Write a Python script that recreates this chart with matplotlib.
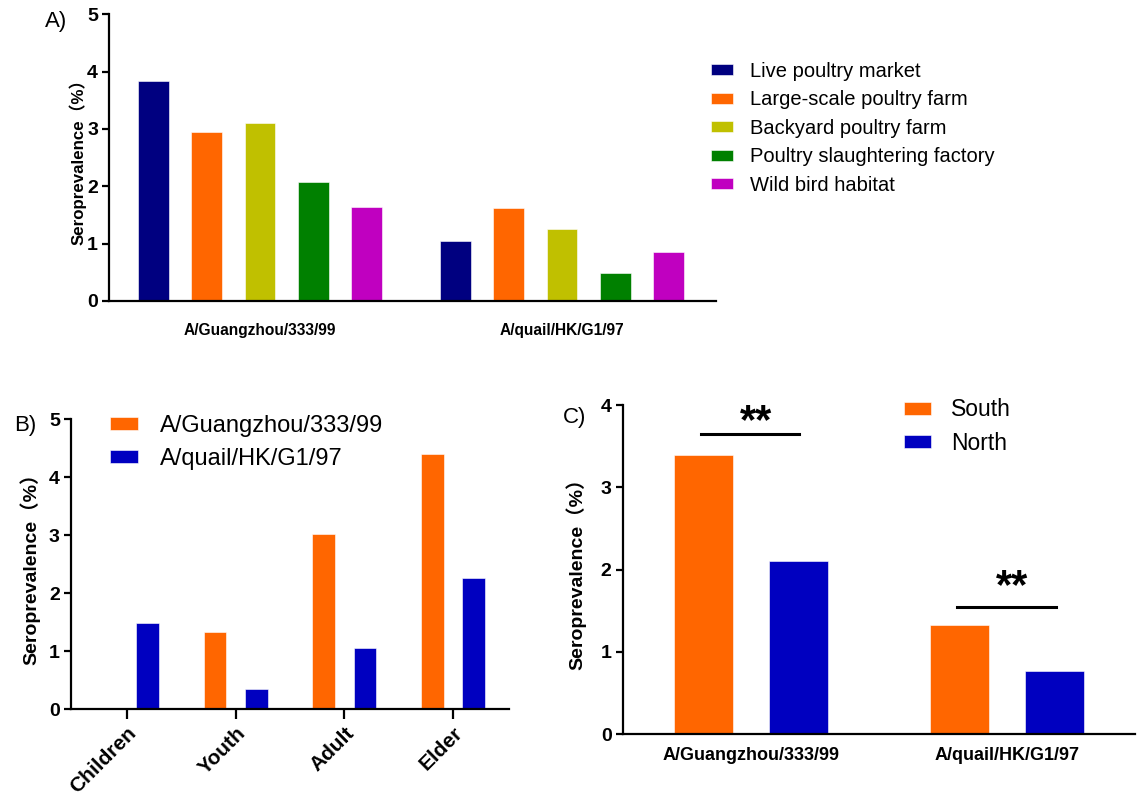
import numpy as np
import matplotlib
matplotlib.use("Agg")
from matplotlib import pyplot as plt

plt.rcParams['font.family'] = ['Liberation Sans', 'Noto Sans CJK SC', 'DejaVu Sans']

# panel A: sampling site x strain
strains = ['A/Guangzhou/333/99', 'A/quail/HK/G1/97']
sites = ['Live poultry market', 'Large-scale poultry farm', 'Backyard poultry farm',
         'Poultry slaughtering factory', 'Wild bird habitat']
site_vals = [
    [3.84, 1.05],
    [2.94, 1.62],
    [3.11, 1.26],
    [2.08, 0.48],
    [1.63, 0.85],
]
site_colors = ['#000080', '#FF6600', '#C0C000', '#008000', '#C000C0']

# panel B: age groups
ages = ['Children', 'Youth', 'Adult', 'Elder']
gz_age = [0.0, 1.33, 3.02, 4.41]
hk_age = [1.49, 0.35, 1.06, 2.26]

# panel C: region
regions = ['South', 'North']
south = [3.39, 1.33]
north = [2.10, 0.77]
sig_y = [3.65, 1.55]     # significance bars
star_y = [3.66, 1.65]    # baseline of the ** marks

ORANGE = '#FF6600'
BLUE = '#0000C0'
YLAB = 'Seroprevalence（%）'


def style_axes(ax, ylab, fs_tick, fs_lab, pad):
    for s in ['top', 'right']:
        ax.spines[s].set_visible(False)
    for s in ['left', 'bottom']:
        ax.spines[s].set_linewidth(1.6)
    ax.tick_params(axis='y', width=1.6, length=5, labelsize=fs_tick, pad=3)
    for t in ax.get_yticklabels():
        t.set_fontweight('bold')
    ax.set_ylabel(ylab, fontsize=fs_lab, fontweight='bold', labelpad=pad)


fig = plt.figure(figsize=(11.39, 7.99), dpi=100)

# ---- A ----
axA = fig.add_axes([0.0957, 0.6233, 0.5330, 0.3590])
x = np.arange(len(strains))
offs = (np.arange(len(sites)) - 2) * 0.176
for i in range(len(sites)):
    axA.bar(x + offs[i], site_vals[i], width=0.102, color=site_colors[i],
            label=sites[i], edgecolor='white', linewidth=0.4)
axA.set_xlim(-0.5, 1.51)
axA.set_ylim(0, 5)
axA.set_yticks(range(6))
axA.set_xticks(x)
axA.set_xticklabels(strains, fontsize=11.2, fontweight='bold')
axA.tick_params(axis='x', length=0, pad=16)
style_axes(axA, YLAB, 14, 12.2, 0)
h, l = axA.get_legend_handles_labels()
fig.legend(h, l, loc='upper left', bbox_to_anchor=(711 / 1139, 1 - 62 / 799),
           frameon=False, fontsize=14.5, handlelength=1.1, handleheight=0.45,
           handletextpad=0.85, labelspacing=0.47, borderpad=0, borderaxespad=0)
fig.text(56 / 1139, 1 - 22 / 799, 'A)', fontsize=16, va='center', ha='center')

# ---- B ----
axB = fig.add_axes([0.0623, 0.1126, 0.3846, 0.3626])
xb = np.arange(len(ages))
axB.bar(xb - 0.19, gz_age, width=0.21, color=ORANGE, label=strains[0],
        edgecolor='white', linewidth=0.4)
axB.bar(xb + 0.19, hk_age, width=0.21, color=BLUE, label=strains[1],
        edgecolor='white', linewidth=0.4)
axB.set_xlim(-0.515, 3.515)
axB.set_ylim(0, 5)
axB.set_yticks(range(6))
axB.set_xticks(xb)
axB.set_xticklabels(ages, rotation=45, ha='right', rotation_mode='anchor',
                    fontsize=15, fontweight='bold')
axB.tick_params(axis='x', width=1.6, length=7)
style_axes(axB, YLAB, 14, 14, 6)
axB.legend(loc='upper left', bbox_to_anchor=(0.09, 1.015), frameon=False,
           fontsize=17, handlelength=1.15, handleheight=0.45, handletextpad=0.95,
           labelspacing=0.45, borderpad=0, borderaxespad=0)
fig.text(25 / 1139, 1 - 425 / 799, 'B)', fontsize=16, va='center', ha='center')

# ---- C ----
axC = fig.add_axes([0.5467, 0.0810, 0.4498, 0.4121])
xc = np.arange(len(strains))
axC.bar(xc - 0.186, south, width=0.23, color=ORANGE, label=regions[0],
        edgecolor='white', linewidth=0.4)
axC.bar(xc + 0.186, north, width=0.23, color=BLUE, label=regions[1],
        edgecolor='white', linewidth=0.4)
for i in range(len(strains)):
    axC.plot([xc[i] - 0.195, xc[i] + 0.19], [sig_y[i], sig_y[i]], color='black', lw=2.2)
    axC.text(xc[i] + 0.02, star_y[i], '**', ha='center', va='baseline',
             fontsize=30, fontweight='bold')
axC.set_xlim(-0.5, 1.5)
axC.set_ylim(0, 4)
axC.set_yticks(range(5))
axC.set_xticks(xc)
axC.set_xticklabels(strains, fontsize=13, fontweight='bold')
axC.tick_params(axis='x', length=0, pad=9)
style_axes(axC, YLAB, 14, 14, 10)
axC.legend(loc='upper left', bbox_to_anchor=(0.549, 1.02), frameon=False,
           fontsize=16.5, handlelength=1.18, handleheight=0.48, handletextpad=0.87,
           labelspacing=0.45, borderpad=0, borderaxespad=0)
fig.text(575 / 1139, 1 - 417 / 799, 'C)', fontsize=16, va='center', ha='center')

fig.savefig('out.png', dpi=100)
